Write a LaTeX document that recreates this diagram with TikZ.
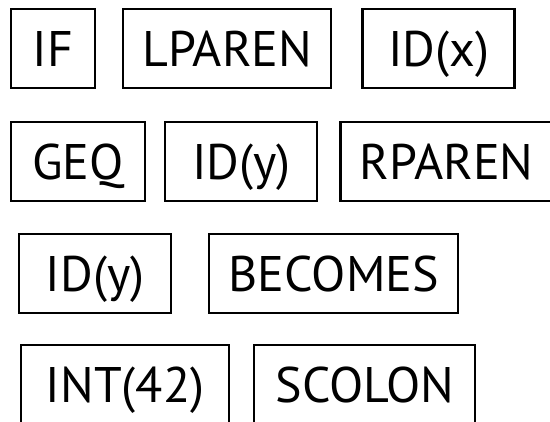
\documentclass[tikz,border=0pt]{standalone}
\usepackage{fontspec}
\setmainfont{PT Sans}
\usetikzlibrary{positioning}

\begin{document}
\begin{tikzpicture}[token/.style={rectangle,draw,line width=2.2pt,minimum width=#1,minimum height=79pt,inner sep=0pt,text height=36pt,text depth=0pt,font=\fontsize{50pt}{60pt}\selectfont}]
  \useasboundingbox (0,0) rectangle (550pt,-422pt);
  \clip (0,0) rectangle (550pt,-422pt);
  % first line
  \node[token=84pt,anchor=north west] (if) at (10pt,-8pt) {IF};
  \node[token=208pt] (lparen) [right=26pt of if] {LPAREN};
  \node[token=152pt] (idx) [right=29pt of lparen] {ID(x)};
  % second line
  \node[token=134pt,anchor=north west] (geq) at (10pt,-121pt) {GEQ};
  \node[token=152pt] (idy) [right=18pt of geq] {ID(y)};
  \node[token=212pt] (rparen) [right=21pt of idy] {RPAREN};
  % third line
  \node[token=152pt,anchor=north west] (lhs) at (18pt,-233pt) {ID(y)};
  \node[token=249pt] (becomes) [right=36pt of lhs] {BECOMES};
  % fourth line
  \node[token=208pt,anchor=north west] (int) at (20pt,-344pt) {INT(42)};
  \node[token=221pt] (scolon) [right=23pt of int] {SCOLON};
\end{tikzpicture}
\end{document}
